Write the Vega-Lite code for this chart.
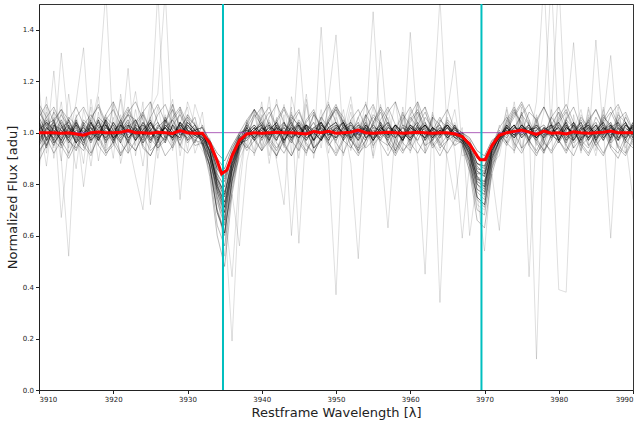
{
"$schema": "https://vega.github.io/schema/vega-lite/v6.json",
"width": 594, "height": 386,
"autosize": {"type": "none"},
"padding": {"left": 39, "top": 4, "right": 8, "bottom": 35},
"background": "white",
"config": {
 "font": "DejaVu Sans",
 "view": {"stroke": "#333333", "strokeWidth": 1},
 "axis": {"grid": false, "domainColor": "#222222", "tickColor": "#222222", "labelColor": "#222222", "titleColor": "#222222", "labelFontSize": 7, "tickSize": 3.5, "labelPadding": 2, "titleFontSize": 13, "titleFontWeight": "normal"}
},
"datasets": {
"spec": [
{"x":3910,"a":1.03,"b":0.97,"c":1.01,"d":1.05,"e":0.99,"f":0.95,"g":1.02,"h":1.00,"i":0.98,"j":1.04,"k":0.96,"l":1.01,"m":1.06,"n":0.99,"o":1.12,"p":0.88,"q":1.05,"r":0.93,"s":1.18,"t":0.85},
{"x":3911,"a":0.98,"b":1.02,"c":1.04,"d":0.97,"e":1.03,"f":1.00,"g":0.95,"h":1.05,"i":1.01,"j":0.97,"k":1.02,"l":0.94,"m":1.00,"n":1.04,"o":0.95,"p":1.10,"q":0.87,"r":1.14,"s":0.92,"t":1.08},
{"x":3912,"a":1.01,"b":0.99,"c":0.96,"d":1.02,"e":1.05,"f":0.98,"g":1.03,"h":0.97,"i":1.04,"j":1.00,"k":0.99,"l":1.03,"m":0.95,"n":1.01,"o":1.24,"p":0.94,"q":1.09,"r":0.90,"s":1.06,"t":0.97},
{"x":3913,"a":0.97,"b":1.04,"c":1.00,"d":0.99,"e":0.96,"f":1.03,"g":1.01,"h":1.02,"i":0.95,"j":1.05,"k":1.01,"l":0.98,"m":1.02,"n":0.97,"o":0.90,"p":1.31,"q":0.67,"r":1.08,"s":0.89,"t":1.12},
{"x":3914,"a":1.02,"b":0.98,"c":1.03,"d":1.01,"e":1.00,"f":0.96,"g":0.98,"h":1.04,"i":1.02,"j":0.99,"k":0.97,"l":1.05,"m":0.99,"n":1.03,"o":0.52,"p":1.02,"q":0.96,"r":0.94,"s":1.15,"t":0.91},
{"x":3915,"a":1.00,"b":1.03,"c":0.98,"d":0.96,"e":1.04,"f":1.01,"g":1.05,"h":0.99,"i":0.97,"j":1.02,"k":1.04,"l":0.99,"m":1.03,"n":0.96,"o":1.07,"p":0.86,"q":1.12,"r":1.05,"s":0.93,"t":1.04},
{"x":3916,"a":0.96,"b":1.00,"c":1.02,"d":1.04,"e":0.98,"f":0.99,"g":0.97,"h":1.01,"i":1.03,"j":0.95,"k":1.00,"l":1.02,"m":0.97,"n":1.00,"o":0.94,"p":1.09,"q":1.33,"r":0.79,"s":1.04,"t":0.88},
{"x":3917,"a":1.04,"b":0.97,"c":0.99,"d":1.00,"e":1.02,"f":1.04,"g":1.01,"h":0.96,"i":1.00,"j":1.03,"k":0.98,"l":0.97,"m":1.04,"n":1.02,"o":1.10,"p":0.97,"q":0.92,"r":1.02,"s":0.87,"t":1.13},
{"x":3918,"a":0.99,"b":1.05,"c":1.03,"d":0.97,"e":0.99,"f":0.97,"g":1.04,"h":1.02,"i":0.98,"j":1.01,"k":1.05,"l":1.00,"m":0.98,"n":0.97,"o":0.89,"p":1.14,"q":1.04,"r":1.16,"s":1.08,"t":0.95},
{"x":3919,"a":1.03,"b":0.98,"c":0.97,"d":1.02,"e":1.05,"f":1.02,"g":0.99,"h":1.03,"i":1.05,"j":0.98,"k":0.96,"l":1.04,"m":1.01,"n":1.03,"o":1.05,"p":0.92,"q":0.95,"r":1.55,"s":0.94,"t":1.07},
{"x":3920,"a":0.98,"b":1.01,"c":1.04,"d":0.99,"e":0.97,"f":1.00,"g":1.03,"h":0.98,"i":1.01,"j":1.04,"k":1.02,"l":0.98,"m":0.96,"n":1.00,"o":0.97,"p":1.06,"q":1.11,"r":0.98,"s":1.12,"t":0.90},
{"x":3921,"a":1.01,"b":1.03,"c":0.99,"d":1.05,"e":1.01,"f":0.96,"g":0.98,"h":1.00,"i":0.97,"j":1.00,"k":0.99,"l":1.03,"m":1.03,"n":1.04,"o":1.13,"p":0.91,"q":0.88,"r":1.07,"s":0.96,"t":1.15},
{"x":3922,"a":1.05,"b":0.96,"c":1.01,"d":0.98,"e":1.03,"f":1.03,"g":1.02,"h":1.04,"i":1.02,"j":0.97,"k":1.03,"l":0.99,"m":1.00,"n":0.98,"o":0.92,"p":1.08,"q":1.02,"r":0.93,"s":1.25,"t":0.97},
{"x":3923,"a":0.99,"b":1.02,"c":0.97,"d":1.01,"e":0.98,"f":1.01,"g":1.05,"h":0.97,"i":0.99,"j":1.03,"k":0.97,"l":1.02,"m":1.05,"n":1.01,"o":1.04,"p":0.95,"q":1.16,"r":1.09,"s":0.91,"t":0.83},
{"x":3924,"a":1.02,"b":0.99,"c":1.03,"d":0.97,"e":1.04,"f":0.98,"g":0.99,"h":1.01,"i":1.04,"j":1.01,"k":1.01,"l":0.96,"m":0.99,"n":1.03,"o":0.87,"p":1.12,"q":0.97,"r":0.95,"s":1.07,"t":0.70},
{"x":3925,"a":0.97,"b":1.04,"c":1.00,"d":1.03,"e":1.00,"f":1.04,"g":1.01,"h":1.05,"i":0.98,"j":0.96,"k":1.04,"l":1.01,"m":1.02,"n":0.97,"o":1.09,"p":0.72,"q":1.06,"r":1.12,"s":0.94,"t":1.02},
{"x":3926,"a":1.03,"b":1.00,"c":0.98,"d":1.00,"e":0.97,"f":0.99,"g":0.96,"h":0.99,"i":1.01,"j":1.02,"k":0.98,"l":1.04,"m":0.97,"n":1.02,"o":1.15,"p":0.98,"q":0.93,"r":0.90,"s":1.10,"t":1.55},
{"x":3927,"a":1.00,"b":0.97,"c":1.05,"d":1.02,"e":1.02,"f":1.02,"g":1.03,"h":1.02,"i":0.96,"j":1.05,"k":1.02,"l":0.98,"m":1.03,"n":1.00,"o":1.55,"p":1.07,"q":1.04,"r":1.06,"s":0.97,"t":0.96},
{"x":3928,"a":0.98,"b":1.03,"c":1.01,"d":0.98,"e":1.05,"f":0.97,"g":1.00,"h":0.98,"i":1.03,"j":0.99,"k":0.99,"l":1.02,"m":1.00,"n":0.98,"o":0.96,"p":0.93,"q":1.13,"r":0.95,"s":1.11,"t":1.09},
{"x":3929,"a":1.04,"b":0.99,"c":0.97,"d":1.04,"e":0.99,"f":1.03,"g":0.98,"h":1.03,"i":1.00,"j":1.02,"k":1.04,"l":1.00,"m":0.98,"n":1.04,"o":1.08,"p":1.10,"q":0.91,"r":1.04,"s":0.74,"t":0.94},
{"x":3930,"a":1.01,"b":1.02,"c":1.03,"d":0.99,"e":1.01,"f":1.00,"g":1.04,"h":1.00,"i":0.98,"j":1.00,"k":0.97,"l":1.03,"m":1.04,"n":1.01,"o":0.93,"p":0.97,"q":1.07,"r":1.10,"s":1.06,"t":1.12},
{"x":3931,"a":0.99,"b":1.00,"c":1.00,"d":1.01,"e":0.98,"f":1.01,"g":1.01,"h":0.97,"i":1.02,"j":1.03,"k":1.01,"l":0.99,"m":1.01,"n":0.99,"o":1.11,"p":1.04,"q":0.96,"r":0.92,"s":0.98,"t":1.03},
{"x":3932,"a":1.00,"b":0.98,"c":0.99,"d":1.02,"e":1.00,"f":0.96,"g":0.99,"h":1.00,"i":0.99,"j":0.98,"k":0.97,"l":1.00,"m":0.98,"n":0.97,"o":1.02,"p":0.95,"q":1.08,"r":1.00,"s":0.93,"t":0.97},
{"x":3933,"a":0.93,"b":0.95,"c":0.90,"d":0.97,"e":0.92,"f":0.90,"g":0.95,"h":0.93,"i":0.97,"j":0.91,"k":0.90,"l":0.95,"m":0.93,"n":0.87,"o":0.90,"p":0.98,"q":0.86,"r":0.95,"s":0.88,"t":0.92},
{"x":3934,"a":0.82,"b":0.84,"c":0.78,"d":0.90,"e":0.82,"f":0.75,"g":0.86,"h":0.80,"i":0.92,"j":0.81,"k":0.77,"l":0.86,"m":0.79,"n":0.69,"o":0.78,"p":0.85,"q":0.74,"r":0.80,"s":0.70,"t":0.83},
{"x":3935,"a":0.76,"b":0.79,"c":0.71,"d":0.86,"e":0.77,"f":0.66,"g":0.83,"h":0.71,"i":0.89,"j":0.75,"k":0.69,"l":0.81,"m":0.73,"n":0.61,"o":0.52,"p":0.72,"q":0.65,"r":0.68,"s":0.62,"t":0.70},
{"x":3936,"a":0.88,"b":0.92,"c":0.86,"d":0.94,"e":0.89,"f":0.85,"g":0.91,"h":0.88,"i":0.95,"j":0.90,"k":0.85,"l":0.92,"m":0.87,"n":0.81,"o":0.80,"p":0.85,"q":0.76,"r":0.19,"s":0.82,"t":0.44},
{"x":3937,"a":0.97,"b":0.98,"c":0.96,"d":0.99,"e":0.97,"f":0.95,"g":0.98,"h":0.96,"i":1.00,"j":0.97,"k":0.95,"l":0.99,"m":0.96,"n":0.94,"o":0.92,"p":0.99,"q":0.56,"r":0.78,"s":0.90,"t":0.85},
{"x":3938,"a":1.01,"b":0.99,"c":1.00,"d":1.03,"e":0.98,"f":0.99,"g":1.02,"h":0.97,"i":1.01,"j":1.00,"k":0.98,"l":1.02,"m":0.99,"n":1.00,"o":1.05,"p":0.94,"q":0.89,"r":1.03,"s":0.96,"t":1.01},
{"x":3939,"a":0.98,"b":1.02,"c":1.03,"d":0.99,"e":1.01,"f":1.02,"g":0.97,"h":1.01,"i":0.98,"j":1.03,"k":1.01,"l":0.98,"m":1.02,"n":0.97,"o":0.97,"p":1.08,"q":1.02,"r":0.91,"s":1.09,"t":0.93},
{"x":3940,"a":1.02,"b":0.98,"c":0.99,"d":1.01,"e":1.04,"f":0.97,"g":1.00,"h":1.03,"i":1.02,"j":0.99,"k":1.03,"l":1.01,"m":0.98,"n":1.02,"o":1.12,"p":0.93,"q":0.95,"r":1.07,"s":0.94,"t":1.10},
{"x":3941,"a":0.99,"b":1.03,"c":1.02,"d":0.97,"e":0.99,"f":1.01,"g":1.04,"h":0.98,"i":1.00,"j":1.02,"k":0.97,"l":1.03,"m":1.01,"n":0.99,"o":0.91,"p":1.05,"q":1.14,"r":0.96,"s":1.03,"t":0.88},
{"x":3942,"a":1.03,"b":1.00,"c":0.97,"d":1.03,"e":1.02,"f":1.04,"g":0.99,"h":1.02,"i":0.97,"j":1.01,"k":1.02,"l":0.98,"m":1.04,"n":1.01,"o":1.06,"p":0.97,"q":0.90,"r":1.13,"s":0.89,"t":1.05},
{"x":3943,"a":0.97,"b":1.01,"c":1.04,"d":1.00,"e":0.97,"f":0.99,"g":1.02,"h":1.00,"i":1.03,"j":0.96,"k":1.00,"l":1.02,"m":0.97,"n":1.04,"o":0.94,"p":1.11,"q":1.07,"r":0.95,"s":0.72,"t":0.99},
{"x":3944,"a":1.01,"b":0.97,"c":1.00,"d":1.04,"e":1.01,"f":1.02,"g":0.98,"h":0.96,"i":1.01,"j":1.03,"k":0.98,"l":0.99,"m":1.02,"n":0.98,"o":1.10,"p":0.92,"q":0.60,"r":1.05,"s":1.14,"t":1.08},
{"x":3945,"a":1.04,"b":1.02,"c":0.98,"d":0.99,"e":1.03,"f":0.98,"g":1.01,"h":1.03,"i":0.98,"j":1.00,"k":1.04,"l":1.03,"m":0.99,"n":1.00,"o":0.57,"p":1.33,"q":0.98,"r":0.90,"s":1.02,"t":0.93},
{"x":3946,"a":0.98,"b":1.00,"c":1.03,"d":1.02,"e":0.98,"f":1.03,"g":1.03,"h":0.99,"i":1.02,"j":0.97,"k":1.01,"l":0.97,"m":1.03,"n":1.03,"o":1.03,"p":0.99,"q":1.15,"r":1.11,"s":0.91,"t":1.13},
{"x":3947,"a":1.00,"b":1.04,"c":1.01,"d":0.97,"e":1.00,"f":1.00,"g":0.97,"h":1.02,"i":0.99,"j":1.02,"k":0.97,"l":1.01,"m":1.00,"n":0.97,"o":0.95,"p":1.07,"q":0.93,"r":0.96,"s":1.08,"t":0.90},
{"x":3948,"a":1.02,"b":0.98,"c":0.97,"d":1.03,"e":1.04,"f":0.97,"g":1.00,"h":1.01,"i":1.04,"j":1.04,"k":1.03,"l":1.04,"m":0.97,"n":1.02,"o":1.09,"p":0.94,"q":1.41,"r":1.04,"s":0.97,"t":1.06},
{"x":3949,"a":0.97,"b":1.01,"c":1.02,"d":1.00,"e":0.99,"f":1.02,"g":1.04,"h":0.97,"i":1.00,"j":0.99,"k":1.00,"l":0.98,"m":1.02,"n":0.99,"o":0.92,"p":1.12,"q":0.96,"r":1.13,"s":1.10,"t":0.89},
{"x":3950,"a":1.03,"b":1.03,"c":1.00,"d":0.98,"e":1.02,"f":1.04,"g":0.98,"h":1.02,"i":0.97,"j":1.01,"k":0.98,"l":1.02,"m":1.04,"n":1.01,"o":1.06,"p":0.96,"q":1.08,"r":1.38,"s":0.93,"t":0.37},
{"x":3951,"a":1.00,"b":0.99,"c":1.04,"d":1.02,"e":0.97,"f":0.99,"g":1.01,"h":1.04,"i":1.02,"j":0.98,"k":1.03,"l":1.00,"m":0.99,"n":1.04,"o":0.98,"p":1.09,"q":0.91,"r":0.97,"s":1.04,"t":1.02},
{"x":3952,"a":0.98,"b":1.02,"c":0.98,"d":1.04,"e":1.01,"f":1.01,"g":1.03,"h":0.99,"i":1.00,"j":1.03,"k":1.01,"l":0.97,"m":1.01,"n":0.98,"o":1.11,"p":0.93,"q":1.05,"r":1.08,"s":0.88,"t":1.14},
{"x":3953,"a":1.02,"b":1.00,"c":1.01,"d":0.99,"e":1.04,"f":0.97,"g":0.99,"h":1.00,"i":1.03,"j":1.00,"k":0.97,"l":1.03,"m":0.98,"n":1.00,"o":0.94,"p":1.06,"q":0.97,"r":0.92,"s":0.51,"t":0.95},
{"x":3954,"a":1.01,"b":1.04,"c":0.99,"d":1.01,"e":0.98,"f":1.03,"g":1.02,"h":1.03,"i":0.98,"j":0.97,"k":1.02,"l":1.01,"m":1.03,"n":1.02,"o":1.07,"p":0.98,"q":1.12,"r":1.05,"s":1.02,"t":1.07},
{"x":3955,"a":0.99,"b":0.97,"c":1.03,"d":0.97,"e":1.00,"f":1.00,"g":0.97,"h":0.98,"i":1.01,"j":1.02,"k":0.99,"l":0.98,"m":1.00,"n":0.97,"o":0.90,"p":1.10,"q":0.94,"r":0.96,"s":1.47,"t":0.91},
{"x":3956,"a":1.03,"b":1.01,"c":1.00,"d":1.02,"e":1.03,"f":0.98,"g":1.01,"h":1.02,"i":0.99,"j":1.01,"k":1.04,"l":1.02,"m":0.97,"n":1.01,"o":1.04,"p":0.95,"q":1.03,"r":1.11,"s":0.99,"t":1.32},
{"x":3957,"a":0.98,"b":0.99,"c":0.97,"d":1.00,"e":0.99,"f":1.02,"g":1.04,"h":0.99,"i":1.03,"j":0.98,"k":1.00,"l":0.99,"m":1.02,"n":1.04,"o":0.97,"p":0.63,"q":1.09,"r":0.93,"s":1.06,"t":1.00},
{"x":3958,"a":1.01,"b":1.03,"c":1.02,"d":1.03,"e":1.01,"f":1.01,"g":0.99,"h":1.03,"i":1.00,"j":1.03,"k":0.98,"l":1.03,"m":1.00,"n":0.98,"o":1.12,"p":1.02,"q":0.95,"r":1.03,"s":0.92,"t":0.94},
{"x":3959,"a":0.97,"b":1.00,"c":0.99,"d":0.98,"e":0.97,"f":0.97,"g":1.02,"h":1.00,"i":0.97,"j":1.00,"k":1.03,"l":1.00,"m":0.98,"n":1.02,"o":0.93,"p":1.08,"q":1.06,"r":0.97,"s":1.10,"t":1.08},
{"x":3960,"a":1.02,"b":0.98,"c":1.03,"d":1.01,"e":1.02,"f":1.03,"g":0.98,"h":0.97,"i":1.02,"j":0.99,"k":1.01,"l":0.97,"m":1.03,"n":1.00,"o":1.39,"p":0.94,"q":0.92,"r":1.09,"s":0.95,"t":0.97},
{"x":3961,"a":1.00,"b":1.02,"c":1.00,"d":1.04,"e":1.00,"f":1.00,"g":1.01,"h":1.02,"i":1.00,"j":1.03,"k":0.99,"l":1.01,"m":1.01,"n":0.97,"o":1.02,"p":1.11,"q":1.04,"r":0.90,"s":1.08,"t":1.12},
{"x":3962,"a":1.03,"b":0.99,"c":0.98,"d":0.99,"e":1.03,"f":0.98,"g":1.03,"h":1.01,"i":1.03,"j":0.97,"k":1.02,"l":1.04,"m":0.98,"n":1.03,"o":0.95,"p":0.97,"q":1.10,"r":0.45,"s":0.93,"t":0.92},
{"x":3963,"a":0.98,"b":1.01,"c":1.02,"d":1.01,"e":0.99,"f":1.02,"g":0.99,"h":0.98,"i":0.98,"j":1.02,"k":0.97,"l":0.99,"m":1.02,"n":1.00,"o":1.08,"p":1.05,"q":0.96,"r":1.06,"s":1.07,"t":1.06},
{"x":3964,"a":1.01,"b":1.03,"c":0.99,"d":0.98,"e":1.01,"f":1.00,"g":1.02,"h":1.02,"i":1.01,"j":1.00,"k":1.01,"l":1.00,"m":0.99,"n":0.99,"o":0.96,"p":1.52,"q":0.93,"r":0.98,"s":1.01,"t":0.34},
{"x":3965,"a":0.99,"b":0.98,"c":1.03,"d":1.02,"e":0.98,"f":1.03,"g":0.98,"h":1.00,"i":0.99,"j":1.03,"k":1.03,"l":1.02,"m":1.03,"n":1.02,"o":1.06,"p":0.99,"q":1.08,"r":1.04,"s":0.90,"t":0.98},
{"x":3966,"a":1.02,"b":1.00,"c":1.00,"d":0.99,"e":1.02,"f":0.99,"g":1.01,"h":0.99,"i":1.02,"j":0.99,"k":0.98,"l":0.98,"m":1.00,"n":0.98,"o":0.93,"p":1.04,"q":1.28,"r":0.95,"s":0.74,"t":1.09},
{"x":3967,"a":0.98,"b":0.99,"c":0.98,"d":1.00,"e":0.98,"f":0.97,"g":0.99,"h":0.97,"i":1.00,"j":0.98,"k":0.97,"l":0.99,"m":0.98,"n":0.96,"o":0.59,"p":0.97,"q":0.94,"r":1.02,"s":0.95,"t":0.91},
{"x":3968,"a":0.94,"b":0.95,"c":0.91,"d":0.97,"e":0.93,"f":0.91,"g":0.96,"h":0.92,"i":0.98,"j":0.93,"k":0.92,"l":0.94,"m":0.94,"n":0.89,"o":0.88,"p":0.90,"q":0.85,"r":0.60,"s":0.87,"t":0.92},
{"x":3969,"a":0.85,"b":0.86,"c":0.81,"d":0.90,"e":0.87,"f":0.78,"g":0.88,"h":0.83,"i":0.93,"j":0.84,"k":0.80,"l":0.88,"m":0.82,"n":0.75,"o":0.80,"p":0.83,"q":0.76,"r":0.82,"s":0.72,"t":0.78},
{"x":3970,"a":0.83,"b":0.85,"c":0.79,"d":0.90,"e":0.84,"f":0.76,"g":0.87,"h":0.79,"i":0.91,"j":0.84,"k":0.77,"l":0.86,"m":0.81,"n":0.72,"o":0.75,"p":0.80,"q":0.54,"r":0.78,"s":0.70,"t":0.76},
{"x":3971,"a":0.93,"b":0.95,"c":0.93,"d":0.96,"e":0.94,"f":0.90,"g":0.95,"h":0.93,"i":0.97,"j":0.94,"k":0.91,"l":0.95,"m":0.92,"n":0.90,"o":0.86,"p":0.90,"q":0.88,"r":0.92,"s":0.84,"t":0.89},
{"x":3972,"a":0.99,"b":0.98,"c":0.98,"d":1.00,"e":0.98,"f":0.97,"g":1.00,"h":0.98,"i":0.99,"j":0.99,"k":0.97,"l":0.98,"m":0.99,"n":0.97,"o":0.95,"p":1.03,"q":0.91,"r":0.97,"s":0.62,"t":0.94},
{"x":3973,"a":1.01,"b":1.03,"c":1.00,"d":0.99,"e":1.02,"f":1.00,"g":0.98,"h":1.02,"i":1.01,"j":1.02,"k":1.00,"l":1.03,"m":1.00,"n":1.02,"o":1.07,"p":0.96,"q":1.05,"r":1.09,"s":0.98,"t":1.10},
{"x":3974,"a":0.98,"b":1.00,"c":1.03,"d":1.02,"e":0.99,"f":1.03,"g":1.02,"h":0.99,"i":0.98,"j":0.98,"k":1.03,"l":0.99,"m":1.03,"n":0.99,"o":0.92,"p":1.12,"q":0.97,"r":0.94,"s":1.09,"t":0.95},
{"x":3975,"a":1.03,"b":1.02,"c":0.99,"d":1.00,"e":1.03,"f":0.98,"g":1.01,"h":1.03,"i":1.02,"j":1.01,"k":0.98,"l":1.01,"m":0.99,"n":1.03,"o":1.10,"p":0.94,"q":1.08,"r":1.06,"s":0.93,"t":1.08},
{"x":3976,"a":1.00,"b":0.98,"c":1.01,"d":1.03,"e":1.00,"f":1.01,"g":0.97,"h":1.00,"i":1.00,"j":1.03,"k":1.01,"l":1.02,"m":1.02,"n":1.00,"o":0.44,"p":1.05,"q":0.95,"r":0.96,"s":1.04,"t":0.97},
{"x":3977,"a":0.99,"b":1.03,"c":1.02,"d":0.98,"e":1.01,"f":1.03,"g":1.01,"h":0.98,"i":0.97,"j":0.99,"k":1.02,"l":0.98,"m":0.98,"n":0.98,"o":1.03,"p":0.12,"q":1.06,"r":1.12,"s":0.95,"t":1.07},
{"x":3978,"a":1.02,"b":1.00,"c":0.98,"d":1.01,"e":0.98,"f":0.99,"g":1.03,"h":1.01,"i":1.02,"j":1.00,"k":0.99,"l":1.01,"m":1.01,"n":1.02,"o":0.95,"p":1.02,"q":0.97,"r":1.60,"s":1.08,"t":0.92},
{"x":3979,"a":0.98,"b":0.99,"c":1.01,"d":1.00,"e":1.02,"f":1.00,"g":0.99,"h":1.03,"i":1.00,"j":1.02,"k":1.03,"l":1.00,"m":1.03,"n":1.00,"o":1.09,"p":0.97,"q":1.04,"r":0.99,"s":1.60,"t":1.05},
{"x":3980,"a":1.03,"b":0.97,"c":1.00,"d":0.96,"e":1.04,"f":1.02,"g":0.99,"h":0.97,"i":1.02,"j":0.98,"k":1.01,"l":1.04,"m":0.97,"n":1.00,"o":0.97,"p":1.08,"q":0.39,"r":1.10,"s":0.96,"t":1.60},
{"x":3981,"a":0.98,"b":1.02,"c":1.04,"d":1.01,"e":0.97,"f":0.99,"g":1.03,"h":1.02,"i":0.97,"j":1.03,"k":0.96,"l":0.99,"m":1.02,"n":1.04,"o":1.04,"p":0.93,"q":0.38,"r":0.95,"s":1.06,"t":0.98},
{"x":3982,"a":1.01,"b":1.00,"c":0.97,"d":1.04,"e":1.00,"f":1.03,"g":0.97,"h":1.00,"i":1.04,"j":0.99,"k":1.03,"l":0.97,"m":1.00,"n":0.98,"o":1.35,"p":1.01,"q":1.07,"r":1.04,"s":0.94,"t":1.04},
{"x":3983,"a":1.04,"b":0.97,"c":1.01,"d":0.98,"e":1.03,"f":0.97,"g":1.02,"h":0.96,"i":1.00,"j":1.02,"k":0.99,"l":1.02,"m":1.04,"n":1.01,"o":0.97,"p":1.09,"q":0.93,"r":0.92,"s":1.07,"t":0.93},
{"x":3984,"a":0.97,"b":1.03,"c":1.03,"d":1.00,"e":0.98,"f":1.01,"g":1.04,"h":1.02,"i":0.98,"j":0.97,"k":1.02,"l":1.00,"m":0.98,"n":1.03,"o":1.06,"p":0.95,"q":1.10,"r":1.07,"s":1.01,"t":1.09},
{"x":3985,"a":1.02,"b":0.99,"c":0.98,"d":1.03,"e":1.01,"f":1.04,"g":0.98,"h":1.00,"i":1.03,"j":1.01,"k":0.97,"l":1.03,"m":1.01,"n":0.97,"o":0.93,"p":1.36,"q":0.98,"r":0.96,"s":0.91,"t":0.96},
{"x":3986,"a":0.99,"b":1.02,"c":1.02,"d":0.97,"e":1.04,"f":0.98,"g":1.01,"h":1.03,"i":0.99,"j":1.04,"k":1.01,"l":0.98,"m":0.97,"n":1.02,"o":1.10,"p":1.00,"q":1.05,"r":1.09,"s":1.05,"t":1.02},
{"x":3987,"a":1.03,"b":0.98,"c":1.00,"d":1.02,"e":0.97,"f":1.02,"g":1.03,"h":0.98,"i":1.02,"j":0.99,"k":1.04,"l":1.01,"m":1.03,"n":0.99,"o":0.96,"p":1.04,"q":1.30,"r":0.94,"s":0.97,"t":0.59},
{"x":3988,"a":0.98,"b":1.04,"c":0.97,"d":1.00,"e":1.02,"f":0.99,"g":0.97,"h":1.01,"i":1.04,"j":1.02,"k":0.98,"l":0.97,"m":1.00,"n":1.03,"o":1.05,"p":0.94,"q":0.97,"r":1.08,"s":1.10,"t":1.06},
{"x":3989,"a":1.01,"b":1.00,"c":1.03,"d":1.04,"e":0.99,"f":1.03,"g":1.00,"h":1.04,"i":0.98,"j":0.97,"k":1.02,"l":1.03,"m":0.98,"n":1.00,"o":0.94,"p":1.07,"q":1.04,"r":0.97,"s":0.92,"t":0.98},
{"x":3990,"a":1.02,"b":0.97,"c":1.01,"d":0.98,"e":1.03,"f":1.00,"g":1.02,"h":0.99,"i":1.01,"j":1.03,"k":0.99,"l":1.00,"m":1.04,"n":0.98,"o":1.02,"p":0.98,"q":0.95,"r":0.74,"s":1.04,"t":1.03}
],
"spec2": [
{"x":3910,"u":1.08,"v":0.93,"w":1.11,"A":0.96,"B":1.04,"C":0.89,"D":1.06,"E":1.10,"F":0.92,"G":1.01},
{"x":3911,"u":1.03,"v":0.97,"w":1.06,"A":1.01,"B":0.98,"C":0.95,"D":1.11,"E":1.02,"F":0.98,"G":1.06},
{"x":3912,"u":0.97,"v":1.04,"w":1.00,"A":1.08,"B":0.92,"C":1.02,"D":1.04,"E":0.96,"F":1.05,"G":1.10},
{"x":3913,"u":0.94,"v":1.09,"w":0.95,"A":1.03,"B":0.97,"C":1.07,"D":0.97,"E":1.00,"F":1.09,"G":1.03},
{"x":3914,"u":0.99,"v":1.05,"w":0.90,"A":0.97,"B":1.05,"C":1.02,"D":0.92,"E":1.06,"F":1.02,"G":0.97},
{"x":3915,"u":1.06,"v":0.98,"w":0.96,"A":0.93,"B":1.10,"C":0.96,"D":0.98,"E":1.03,"F":0.96,"G":0.94},
{"x":3916,"u":1.10,"v":0.95,"w":1.03,"A":0.99,"B":1.03,"C":0.99,"D":1.05,"E":0.97,"F":0.93,"G":1.00},
{"x":3917,"u":1.04,"v":0.91,"w":1.07,"A":1.05,"B":0.97,"C":1.06,"D":1.02,"E":0.92,"F":1.00,"G":1.05},
{"x":3918,"u":0.98,"v":0.99,"w":1.02,"A":1.11,"B":1.01,"C":1.10,"D":0.95,"E":0.98,"F":1.06,"G":0.99},
{"x":3919,"u":0.92,"v":1.06,"w":0.97,"A":1.04,"B":1.07,"C":1.03,"D":0.91,"E":1.05,"F":1.03,"G":0.93},
{"x":3920,"u":0.95,"v":1.03,"w":0.99,"A":0.98,"B":1.12,"C":0.96,"D":0.97,"E":1.09,"F":0.97,"G":0.96},
{"x":3921,"u":1.02,"v":0.96,"w":1.05,"A":0.92,"B":1.05,"C":0.91,"D":1.04,"E":1.03,"F":1.02,"G":1.03},
{"x":3922,"u":1.07,"v":0.92,"w":1.10,"A":0.96,"B":0.97,"C":0.97,"D":1.09,"E":0.96,"F":1.08,"G":1.07},
{"x":3923,"u":1.05,"v":0.97,"w":1.03,"A":1.03,"B":0.93,"C":1.04,"D":1.02,"E":0.93,"F":1.12,"G":1.01},
{"x":3924,"u":0.99,"v":1.08,"w":0.94,"A":1.07,"B":0.99,"C":1.08,"D":0.96,"E":0.99,"F":1.05,"G":0.95},
{"x":3925,"u":0.93,"v":1.12,"w":0.91,"A":1.01,"B":1.04,"C":1.01,"D":1.00,"E":1.06,"F":0.98,"G":0.91},
{"x":3926,"u":0.96,"v":1.04,"w":0.97,"A":0.95,"B":0.98,"C":0.94,"D":1.07,"E":1.11,"F":0.94,"G":0.97},
{"x":3927,"u":1.04,"v":0.99,"w":1.06,"A":0.98,"B":0.91,"C":0.99,"D":1.11,"E":1.04,"F":0.97,"G":1.04},
{"x":3928,"u":1.11,"v":0.94,"w":1.01,"A":1.06,"B":0.95,"C":1.05,"D":1.03,"E":0.97,"F":1.03,"G":1.09},
{"x":3929,"u":1.02,"v":1.00,"w":0.95,"A":1.10,"B":1.02,"C":1.09,"D":0.95,"E":1.01,"F":1.07,"G":1.02},
{"x":3930,"u":0.97,"v":1.05,"w":1.02,"A":1.03,"B":1.06,"C":1.01,"D":0.92,"E":1.07,"F":1.01,"G":0.96},
{"x":3931,"u":0.99,"v":1.01,"w":1.06,"A":0.99,"B":1.03,"C":0.96,"D":0.97,"E":1.03,"F":0.95,"G":1.00},
{"x":3932,"u":0.97,"v":1.02,"w":0.95,"A":0.98,"B":0.95,"C":1.03,"D":0.96,"E":0.99,"F":0.96,"G":1.00},
{"x":3933,"u":0.88,"v":0.95,"w":0.85,"A":0.93,"B":0.87,"C":0.96,"D":0.83,"E":0.94,"F":0.87,"G":0.92},
{"x":3934,"u":0.73,"v":0.83,"w":0.64,"A":0.79,"B":0.69,"C":0.87,"D":0.60,"E":0.80,"F":0.70,"G":0.77},
{"x":3935,"u":0.64,"v":0.76,"w":0.56,"A":0.69,"B":0.60,"C":0.82,"D":0.48,"E":0.73,"F":0.61,"G":0.67},
{"x":3936,"u":0.83,"v":0.90,"w":0.78,"A":0.87,"B":0.81,"C":0.93,"D":0.76,"E":0.88,"F":0.82,"G":0.85},
{"x":3937,"u":0.95,"v":0.99,"w":0.93,"A":0.97,"B":0.96,"C":1.00,"D":0.92,"E":0.98,"F":0.94,"G":0.96},
{"x":3938,"u":1.02,"v":0.95,"w":1.03,"A":0.94,"B":1.04,"C":1.05,"D":0.99,"E":0.93,"F":1.02,"G":1.04},
{"x":3939,"u":1.07,"v":0.92,"w":1.09,"A":0.99,"B":0.98,"C":1.09,"D":1.06,"E":0.97,"F":0.97,"G":1.09},
{"x":3940,"u":1.03,"v":0.98,"w":1.04,"A":1.06,"B":0.93,"C":1.02,"D":1.10,"E":1.03,"F":0.93,"G":1.05},
{"x":3941,"u":0.96,"v":1.06,"w":0.97,"A":1.10,"B":0.97,"C":0.95,"D":1.03,"E":1.08,"F":0.99,"G":0.98},
{"x":3942,"u":0.91,"v":1.11,"w":0.93,"A":1.02,"B":1.04,"C":0.91,"D":0.96,"E":1.02,"F":1.05,"G":0.94},
{"x":3943,"u":0.98,"v":1.04,"w":0.99,"A":0.96,"B":1.09,"C":0.97,"D":0.92,"E":0.95,"F":1.10,"G":0.99},
{"x":3944,"u":1.05,"v":0.97,"w":1.07,"A":0.91,"B":1.03,"C":1.03,"D":0.98,"E":0.91,"F":1.04,"G":1.06},
{"x":3945,"u":1.09,"v":0.93,"w":1.02,"A":0.97,"B":0.96,"C":1.08,"D":1.05,"E":0.98,"F":0.97,"G":1.03},
{"x":3946,"u":1.01,"v":1.00,"w":0.95,"A":1.04,"B":0.92,"C":1.01,"D":1.01,"E":1.05,"F":0.93,"G":0.96},
{"x":3947,"u":0.94,"v":1.07,"w":0.92,"A":1.08,"B":0.99,"C":0.94,"D":0.94,"E":1.09,"F":0.98,"G":0.92},
{"x":3948,"u":0.97,"v":1.03,"w":0.98,"A":1.01,"B":1.06,"C":0.98,"D":0.97,"E":1.01,"F":1.06,"G":0.98},
{"x":3949,"u":1.04,"v":0.96,"w":1.05,"A":0.95,"B":1.11,"C":1.06,"D":1.04,"E":0.96,"F":1.02,"G":1.05},
{"x":3950,"u":1.10,"v":0.91,"w":1.09,"A":0.99,"B":1.04,"C":1.11,"D":1.09,"E":0.92,"F":0.96,"G":1.10},
{"x":3951,"u":1.06,"v":0.97,"w":1.04,"A":1.05,"B":0.97,"C":1.04,"D":1.02,"E":0.98,"F":0.92,"G":1.03},
{"x":3952,"u":0.98,"v":1.05,"w":0.97,"A":1.00,"B":0.94,"C":0.97,"D":0.95,"E":1.04,"F":0.99,"G":0.97},
{"x":3953,"u":0.92,"v":1.09,"w":1.00,"A":0.93,"B":1.01,"C":0.93,"D":0.91,"E":1.00,"F":1.06,"G":0.94},
{"x":3954,"u":0.95,"v":1.02,"w":1.06,"A":0.97,"B":1.07,"C":1.00,"D":0.97,"E":0.94,"F":1.11,"G":1.00},
{"x":3955,"u":1.03,"v":0.95,"w":1.11,"A":1.04,"B":1.02,"C":1.06,"D":1.04,"E":0.97,"F":1.04,"G":1.07},
{"x":3956,"u":1.08,"v":0.99,"w":1.03,"A":1.09,"B":0.96,"C":1.03,"D":1.10,"E":1.05,"F":0.97,"G":1.04},
{"x":3957,"u":1.00,"v":1.08,"w":0.96,"A":1.03,"B":0.91,"C":0.96,"D":1.05,"E":1.10,"F":0.95,"G":0.97},
{"x":3958,"u":0.93,"v":1.12,"w":0.91,"A":0.96,"B":0.97,"C":0.92,"D":0.98,"E":1.03,"F":1.01,"G":0.93},
{"x":3959,"u":0.99,"v":1.03,"w":0.97,"A":0.92,"B":1.05,"C":0.98,"D":0.93,"E":0.96,"F":1.07,"G":0.99},
{"x":3960,"u":1.07,"v":0.96,"w":1.04,"A":0.98,"B":1.10,"C":1.05,"D":0.96,"E":0.93,"F":1.03,"G":1.06},
{"x":3961,"u":1.12,"v":0.92,"w":1.08,"A":1.06,"B":1.03,"C":1.09,"D":1.03,"E":0.99,"F":0.96,"G":1.02},
{"x":3962,"u":1.04,"v":0.98,"w":1.01,"A":1.10,"B":0.97,"C":1.02,"D":1.08,"E":1.06,"F":0.92,"G":0.95},
{"x":3963,"u":0.96,"v":1.06,"w":0.94,"A":1.02,"B":1.01,"C":0.95,"D":1.01,"E":1.02,"F":0.98,"G":0.97},
{"x":3964,"u":0.91,"v":1.03,"w":0.98,"A":0.95,"B":1.06,"C":0.99,"D":0.94,"E":0.96,"F":1.05,"G":1.04},
{"x":3965,"u":0.97,"v":0.97,"w":1.05,"A":0.99,"B":0.99,"C":1.04,"D":0.97,"E":0.92,"F":1.02,"G":1.09},
{"x":3966,"u":1.03,"v":0.99,"w":1.02,"A":1.03,"B":0.95,"C":1.01,"D":1.03,"E":0.97,"F":0.97,"G":1.01},
{"x":3967,"u":0.97,"v":1.00,"w":0.96,"A":0.98,"B":0.97,"C":0.99,"D":0.95,"E":1.00,"F":0.96,"G":0.98},
{"x":3968,"u":0.90,"v":0.94,"w":0.87,"A":0.93,"B":0.88,"C":0.96,"D":0.85,"E":0.93,"F":0.89,"G":0.92},
{"x":3969,"u":0.77,"v":0.85,"w":0.70,"A":0.82,"B":0.74,"C":0.88,"D":0.66,"E":0.83,"F":0.75,"G":0.80},
{"x":3970,"u":0.74,"v":0.83,"w":0.68,"A":0.80,"B":0.71,"C":0.87,"D":0.63,"E":0.81,"F":0.72,"G":0.78},
{"x":3971,"u":0.89,"v":0.94,"w":0.86,"A":0.92,"B":0.88,"C":0.95,"D":0.84,"E":0.93,"F":0.87,"G":0.91},
{"x":3972,"u":0.97,"v":1.01,"w":0.95,"A":0.99,"B":0.97,"C":1.02,"D":0.94,"E":1.00,"F":0.96,"G":0.98},
{"x":3973,"u":1.04,"v":0.96,"w":1.03,"A":0.95,"B":1.05,"C":1.06,"D":1.01,"E":0.96,"F":1.02,"G":1.03},
{"x":3974,"u":1.09,"v":0.93,"w":1.08,"A":1.01,"B":1.10,"C":1.00,"D":1.06,"E":1.02,"F":1.07,"G":0.96},
{"x":3975,"u":1.02,"v":1.00,"w":1.04,"A":1.07,"B":1.03,"C":0.94,"D":1.11,"E":1.07,"F":1.12,"G":0.92},
{"x":3976,"u":0.95,"v":1.08,"w":0.97,"A":1.11,"B":0.97,"C":0.97,"D":1.03,"E":1.03,"F":1.05,"G":0.98},
{"x":3977,"u":0.91,"v":1.05,"w":0.93,"A":1.04,"B":0.92,"C":1.04,"D":0.96,"E":0.97,"F":0.98,"G":1.05},
{"x":3978,"u":0.98,"v":0.97,"w":0.99,"A":0.96,"B":0.96,"C":1.10,"D":0.92,"E":0.93,"F":0.93,"G":1.10},
{"x":3979,"u":1.06,"v":0.92,"w":1.06,"A":0.93,"B":1.03,"C":1.03,"D":0.99,"E":0.99,"F":0.97,"G":1.04},
{"x":3980,"u":1.10,"v":0.97,"w":1.02,"A":0.99,"B":1.08,"C":0.97,"D":1.05,"E":1.06,"F":1.04,"G":0.97},
{"x":3981,"u":1.03,"v":1.05,"w":0.95,"A":1.05,"B":1.01,"C":0.92,"D":1.09,"E":1.11,"F":1.08,"G":0.93},
{"x":3982,"u":0.96,"v":1.10,"w":0.91,"A":1.02,"B":0.94,"C":0.98,"D":1.02,"E":1.04,"F":1.01,"G":0.99},
{"x":3983,"u":0.99,"v":1.02,"w":0.98,"A":0.95,"B":0.98,"C":1.05,"D":0.95,"E":0.97,"F":0.96,"G":1.06},
{"x":3984,"u":1.05,"v":0.95,"w":1.04,"A":0.91,"B":1.05,"C":1.01,"D":0.98,"E":0.94,"F":0.92,"G":1.02},
{"x":3985,"u":0.97,"v":0.99,"w":1.09,"A":0.97,"B":1.09,"C":0.95,"D":1.06,"E":1.00,"F":0.99,"G":0.95},
{"x":3986,"u":0.92,"v":1.06,"w":1.03,"A":1.04,"B":1.02,"C":0.99,"D":1.01,"E":1.07,"F":1.05,"G":0.91},
{"x":3987,"u":0.98,"v":1.03,"w":0.96,"A":1.08,"B":0.95,"C":1.07,"D":0.94,"E":1.02,"F":1.10,"G":0.98},
{"x":3988,"u":1.07,"v":0.94,"w":0.99,"A":1.02,"B":0.92,"C":1.11,"D":0.90,"E":0.95,"F":1.03,"G":1.05},
{"x":3989,"u":1.04,"v":0.91,"w":1.06,"A":0.96,"B":0.99,"C":1.04,"D":0.97,"E":0.92,"F":0.97,"G":1.08},
{"x":3990,"u":0.99,"v":0.97,"w":1.01,"A":1.00,"B":1.04,"C":0.98,"D":1.03,"E":0.98,"F":0.94,"G":1.01}
],
"med": [
{"x":3910,"y":1.0},{"x":3911,"y":1.0},{"x":3912,"y":1.0},{"x":3913,"y":0.998},{"x":3914,"y":1.0},{"x":3915,"y":0.995},{"x":3916,"y":0.99},{"x":3917,"y":1.0},{"x":3918,"y":1.003},{"x":3919,"y":1.0},{"x":3920,"y":1.0},{"x":3921,"y":1.002},{"x":3922,"y":1.008},{"x":3923,"y":1.0},{"x":3924,"y":1.0},{"x":3925,"y":0.998},{"x":3926,"y":1.002},{"x":3927,"y":1.0},{"x":3928,"y":0.997},{"x":3929,"y":1.008},{"x":3930,"y":1.0},{"x":3931,"y":0.998},{"x":3932,"y":0.998},{"x":3933,"y":0.96},{"x":3934,"y":0.89},{"x":3934.6,"y":0.84},{"x":3935.3,"y":0.855},{"x":3936,"y":0.91},{"x":3937,"y":0.97},{"x":3938,"y":0.995},{"x":3939,"y":1.0},{"x":3940,"y":0.998},{"x":3941,"y":1.0},{"x":3942,"y":1.002},{"x":3943,"y":1.0},{"x":3944,"y":1.0},{"x":3945,"y":0.998},{"x":3946,"y":0.995},{"x":3947,"y":1.004},{"x":3948,"y":1.0},{"x":3949,"y":1.005},{"x":3950,"y":0.998},{"x":3951,"y":1.0},{"x":3952,"y":1.002},{"x":3953,"y":1.01},{"x":3954,"y":1.0},{"x":3955,"y":0.998},{"x":3956,"y":1.0},{"x":3957,"y":1.002},{"x":3958,"y":1.0},{"x":3959,"y":0.998},{"x":3960,"y":1.0},{"x":3961,"y":1.002},{"x":3962,"y":1.0},{"x":3963,"y":0.998},{"x":3964,"y":1.0},{"x":3965,"y":1.0},{"x":3966,"y":0.995},{"x":3967,"y":0.985},{"x":3968,"y":0.955},{"x":3969,"y":0.91},{"x":3969.4,"y":0.895},{"x":3970.1,"y":0.895},{"x":3971,"y":0.95},{"x":3972,"y":0.99},{"x":3973,"y":1.0},{"x":3974,"y":1.005},{"x":3975,"y":1.01},{"x":3976,"y":1.002},{"x":3977,"y":0.993},{"x":3978,"y":1.006},{"x":3979,"y":0.998},{"x":3980,"y":1.0},{"x":3981,"y":0.995},{"x":3982,"y":1.003},{"x":3983,"y":1.0},{"x":3984,"y":0.998},{"x":3985,"y":1.0},{"x":3986,"y":1.002},{"x":3987,"y":1.006},{"x":3988,"y":1.0},{"x":3989,"y":1.0},{"x":3990,"y":1.0}
]
},
"layer": [
{
 "data": {"name": "spec"},
 "transform": [{"fold": ["o","p","q","r","s","t"], "as": ["s","y"]}],
 "mark": {"type": "line", "color": "#000000", "opacity": 0.13, "strokeWidth": 1, "clip": true},
 "encoding": {
  "x": {"field": "x", "type": "quantitative", "title": "Restframe Wavelength [λ]", "scale": {"domain": [3910, 3990], "nice": false, "zero": false}, "axis": {"values": [3910,3920,3930,3940,3950,3960,3970,3980,3990], "format": "d", "titlePadding": 4}},
  "y": {"field": "y", "type": "quantitative", "title": "Normalized Flux [adu]", "scale": {"domain": [0, 1.5], "nice": false}, "axis": {"values": [0,0.2,0.4,0.6,0.8,1.0,1.2,1.4], "format": ".1f", "titlePadding": 3}},
  "detail": {"field": "s", "type": "nominal"}
 }
},
{
 "data": {"name": "spec2"},
 "transform": [{"fold": ["u","v","w","A","B","C","D","E","F","G"], "as": ["s","y"]}],
 "mark": {"type": "line", "color": "#000000", "opacity": 0.26, "strokeWidth": 1, "clip": true},
 "encoding": {
  "x": {"field": "x", "type": "quantitative", "title": "Restframe Wavelength [λ]"},
  "y": {"field": "y", "type": "quantitative", "title": "Normalized Flux [adu]"},
  "detail": {"field": "s", "type": "nominal"}
 }
},
{
 "data": {"name": "spec"},
 "transform": [{"fold": ["a","b","c","d","e","f","g","h","i","j","k","l","m","n"], "as": ["s","y"]}],
 "mark": {"type": "line", "color": "#000000", "opacity": 0.38, "strokeWidth": 1, "clip": true},
 "encoding": {
  "x": {"field": "x", "type": "quantitative", "title": "Restframe Wavelength [λ]"},
  "y": {"field": "y", "type": "quantitative", "title": "Normalized Flux [adu]"},
  "detail": {"field": "s", "type": "nominal"}
 }
},
{
 "data": {"values": [{"y": 1.0}]},
 "mark": {"type": "rule", "color": "#9b3aa8", "strokeWidth": 0.8},
 "encoding": {"y": {"field": "y", "type": "quantitative", "title": "Normalized Flux [adu]"}}
},
{
 "data": {"values": [{"x": 3934.78}, {"x": 3969.59}]},
 "mark": {"type": "rule", "color": "#00bfbf", "strokeWidth": 2},
 "encoding": {"x": {"field": "x", "type": "quantitative", "title": "Restframe Wavelength [λ]"}}
},
{
 "data": {"name": "med"},
 "mark": {"type": "line", "color": "#ff0000", "strokeWidth": 3, "clip": true},
 "encoding": {
  "x": {"field": "x", "type": "quantitative", "title": "Restframe Wavelength [λ]"},
  "y": {"field": "y", "type": "quantitative", "title": "Normalized Flux [adu]"}
 }
}
]
}
